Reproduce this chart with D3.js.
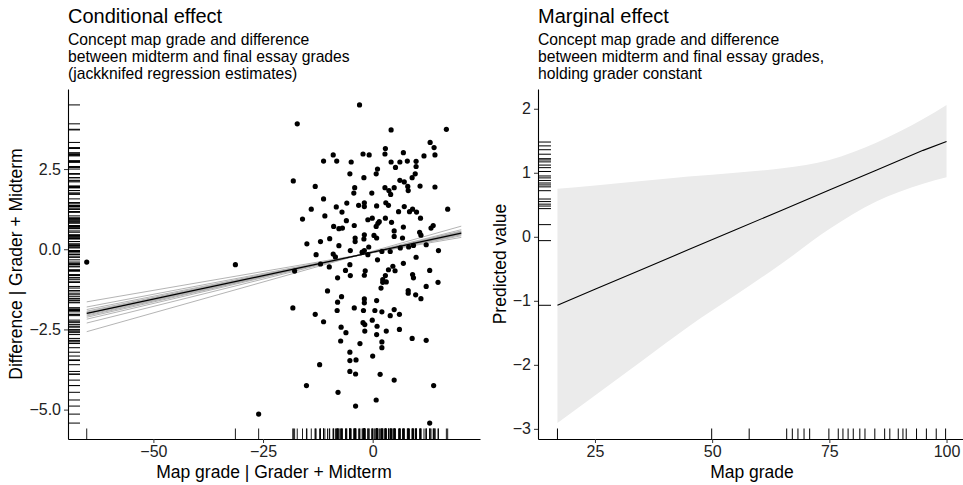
<!DOCTYPE html>
<html>
<head>
<meta charset="utf-8">
<script src="https://cdn.jsdelivr.net/npm/d3@7"></script>
<style>
  body { margin: 0; background: #fff; }
  svg text { font-family: "Liberation Sans", Arial, sans-serif; }
</style>
</head>
<body>
<svg id="chart" width="963" height="485"></svg>
<script>
// residualised map grade vs residualised difference (left panel)
const mapResid = [
  -3.0, -17.2, 4.2, 16.8, 13.1, 14.0, 2.9, -9.0, -2.2, -0.8, 2.8, 7.0, 11.7, 14.2,
  -11.2, -8.2, -4.9, 4.2, 6.2, 7.9, 9.9, 5.2, 9.9, 1.1, -5.2, 0.8, 9.7, 9.0, -2.0,
  -18.1, 6.2, 7.2, -13.1, -4.1, 2.8, 4.9, 8.0, 10.8, 14.2, 3.7, -4.3, -0.2, 8.1, 4.1,
  -11.2, -5.9, -8.3, -1.9, -3.2, -1.9, 0.9, 3.0, 3.6, 7.2, -14.0, 9.1, 17.1,
  -7.0, 5.9, 8.4, 10.0, -16.0, -10.9, -6.0, -1.1, -0.1, 1.2, 1.5, 2.9, 4.3, 10.9,
  -8.9, -7.7, -6.9, -4.2, 0.8, 7.0, 13.8, 13.3, 4.9, 10.7, 11.0, -1.9, 0.3, 0.9, 4.9,
  6.8, -9.8, -11.9, -15.0, -4.0, -2.0, -4.0, -7.7, -0.9, 12.2, 6.3, 8.2, 9.3, -5.1,
  -1.9, 2.1, 4.0, 15.0, -12.9, -9.0, -8.5, -1.1, -2.4, 9.9, 1.1, -11.9, 7.0, -5.2,
  -9.9, -17.8, -6.2, -1.7, 3.6, 4.6, 5.1, 13.0, -5.1, -1.9, -8.0, 2.9, 9.1, 9.3, 2.3,
  2.3, 3.1, 14.9, 12.2, 1.9, -10.3, 8.1, 8.1, 9.8, 11.0, -7.1, -1.9, -1.9, 0.9, -8.0,
  -18.2, -4.2, -8.1, 0.5, 4.9, -13.1, 2.1, 4.0, 6.1, -2.1,
  -11.2, -0.1, -2.2, -1.8, 1.0, -7.2, -6.1, -1.8, 0.9, 3.1, 6.1, 9.0, 12.2, -7.3, -2.9,
  2.1, 2.1, -5.2, 0.0, -5.2, -3.8, -12.1, -5.2, -3.9, 1.7, 4.9, -15.1, 13.9, -7.9, 0.8,
  -3.9, 13.0, -65.2, -31.3, -26.0
];
const diffResid = [
  4.50, 3.91, 3.72, 3.74, 3.33, 3.17, 3.14, 2.94, 2.97, 2.94, 2.97, 3.01, 2.91, 2.94,
  2.75, 2.75, 2.72, 2.72, 2.72, 2.75, 2.74, 2.55, 2.58, 2.50, 2.35, 2.35, 2.35, 2.23, 2.23,
  2.13, 2.15, 2.10, 1.96, 1.92, 1.92, 1.92, 1.96, 1.97, 1.94, 1.83, 1.75, 1.75, 1.83, 1.71,
  1.57, 1.44, 1.32, 1.45, 1.37, 1.33, 1.35, 1.45, 1.37, 1.33, 1.25, 1.25, 1.25,
  1.16, 1.17, 1.17, 1.16, 0.94, 1.04, 0.89, 0.92, 0.97, 0.81, 0.86, 0.97, 0.84, 0.97,
  0.71, 0.64, 0.66, 0.74, 0.71, 0.69, 0.74, 0.66, 0.57, 0.53, 0.44, 0.45, 0.43, 0.35, 0.40,
  0.35, 0.33, 0.24, 0.17, 0.35, 0.32, 0.24, 0.11, 0.07, 0.14, 0.04, 0.07, 0.12, -0.04,
  -0.04, -0.07, -0.07, -0.04, -0.17, -0.15, -0.24, -0.17, -0.09, -0.25, -0.33, -0.46, -0.44, -0.48,
  -0.55, -0.68, -0.66, -0.67, -0.64, -0.53, -0.67, -0.66, -0.82, -0.81, -0.89, -0.82, -0.79, -0.89, -0.95,
  -1.03, -1.02, -1.03, -1.16, -1.21, -1.30, -1.29, -1.37, -1.42, -1.54, -1.48, -1.55, -1.67, -1.60, -1.65,
  -1.83, -1.83, -1.91, -1.91, -1.88, -2.03, -1.95, -2.07, -2.03, -1.91,
  -2.26, -2.21, -2.29, -2.35, -2.40, -2.43, -2.60, -2.55, -2.66, -2.55, -2.50, -2.78, -2.84, -2.86, -2.94,
  -2.89, -3.07, -3.21, -3.33, -3.47, -3.45, -3.60, -3.81, -3.89, -3.90, -4.08, -4.25, -4.25, -4.46, -4.70,
  -4.89, -5.42, -0.40, -0.48, -5.14
];
// full-sample fit and jackknifed fits: y at the two ends of the line
const fitEnds = [-65.2, 20.2];
const fitFull = [-2.00, 0.50];
const jackLeft = [-2.57, -2.30, -2.18, -2.12, -2.08, -2.05, -2.02, -1.99, -1.96, -1.93, -1.88, -1.80, -1.64];
const jackRight = [0.72, 0.61, 0.57, 0.55, 0.53, 0.52, 0.51, 0.49, 0.48, 0.47, 0.45, 0.42, 0.37];

// marginal effect (right panel)
const gradeGrid = [17, 25, 35, 45, 55, 65, 75, 85, 95, 100];
const predFit = [-1.07, -0.82, -0.51, -0.20, 0.11, 0.42, 0.73, 1.04, 1.35, 1.49];
const predLow = [-2.91, -2.48, -1.94, -1.40, -0.91, -0.41, 0.12, 0.55, 0.83, 0.93];
const predHigh = [0.75, 0.80, 0.87, 0.94, 1.00, 1.07, 1.20, 1.47, 1.84, 2.06];
const gradeRug = [17.0, 49.9, 57.9, 65.9, 67.1, 68.3, 69.6, 70.8, 74.9, 76.9, 77.9, 79.0, 80.1,
  81.5, 82.6, 84.7, 86.8, 87.9, 89.7, 90.7, 91.4, 93.6, 95.7, 97.8, 99.8];
const predRug = [-1.07, -0.06, 0.19, 0.44, 0.48, 0.51, 0.55, 0.59, 0.72, 0.78, 0.81, 0.84, 0.88,
  0.92, 0.95, 1.02, 1.08, 1.12, 1.17, 1.20, 1.22, 1.29, 1.36, 1.42, 1.48];

const leftTicksX = [-50, -25, 0];
const leftTicksY = [-5, -2.5, 0, 2.5];
const rightTicksX = [25, 50, 75, 100];
const rightTicksY = [-3, -2, -1, 0, 1, 2];

const svg = d3.select("#chart");
const panelTop = 89, panelBottom = 439;

// ggplot-like 5% expansion
function expand(ext) {
  const pad = (ext[1] - ext[0]) * 0.05;
  return [ext[0] - pad, ext[1] + pad];
}

function axes(g, x, y, xt, yt, yfmt, xlab, ylab, ylabX) {
  const xr = x.range(), yr = y.range();
  const xa = g.append("g").attr("transform", `translate(0,${yr[0]})`)
    .call(d3.axisBottom(x).tickValues(xt).tickSize(4).tickPadding(3).tickSizeOuter(0));
  const ya = g.append("g").attr("transform", `translate(${xr[0]},0)`)
    .call(d3.axisLeft(y).tickValues(yt).tickSize(4).tickPadding(3).tickSizeOuter(0).tickFormat(yfmt));
  [xa, ya].forEach(a => {
    a.select(".domain").attr("stroke", "#000").attr("stroke-width", 1.1);
    a.selectAll(".tick line").attr("stroke", "#333");
    a.selectAll("text").attr("fill", "#222").style("font-size", "16px");
  });
  g.append("text").attr("x", (xr[0] + xr[1]) / 2).attr("y", 478)
    .attr("text-anchor", "middle").style("font-size", "17.5px").text(xlab);
  g.append("text").attr("transform", `translate(${ylabX},${(yr[0] + yr[1]) / 2}) rotate(-90)`)
    .attr("text-anchor", "middle").style("font-size", "17.5px").text(ylab);
}

function titles(g, x0, title, lines) {
  g.append("text").attr("x", x0).attr("y", 23).style("font-size", "20px").text(title);
  lines.forEach((t, i) => {
    g.append("text").attr("x", x0).attr("y", 45 + i * 17).style("font-size", "15.7px").text(t);
  });
}

// ---- left panel ----
const L = svg.append("g");
const xL = d3.scaleLinear().domain(expand(d3.extent(mapResid.concat(fitEnds)))).range([68, 480]);
const yL = d3.scaleLinear().domain(expand(d3.extent(diffResid))).range([panelBottom, panelTop]);

jackLeft.forEach((v, i) => {
  L.append("line")
    .attr("x1", xL(fitEnds[0])).attr("y1", yL(v))
    .attr("x2", xL(fitEnds[1])).attr("y2", yL(jackRight[i]))
    .attr("stroke", "#a8a8a8").attr("stroke-width", 1).attr("opacity", 0.85);
});
L.append("line")
  .attr("x1", xL(fitEnds[0])).attr("y1", yL(fitFull[0]))
  .attr("x2", xL(fitEnds[1])).attr("y2", yL(fitFull[1]))
  .attr("stroke", "#000").attr("stroke-width", 1.3);

L.selectAll("circle").data(mapResid).enter().append("circle")
  .attr("cx", d => xL(d))
  .attr("cy", (d, i) => yL(diffResid[i]))
  .attr("r", 2.6).attr("fill", "#000");

// rugs
L.selectAll(".rx").data(mapResid).enter().append("line")
  .attr("x1", d => xL(d)).attr("x2", d => xL(d))
  .attr("y1", panelBottom).attr("y2", panelBottom - 10.5)
  .attr("stroke", "#000").attr("stroke-width", 0.9);
L.selectAll(".ry").data(diffResid).enter().append("line")
  .attr("y1", d => yL(d)).attr("y2", d => yL(d))
  .attr("x1", 68).attr("x2", 80)
  .attr("stroke", "#000").attr("stroke-width", 1);

axes(L, xL, yL, leftTicksX, leftTicksY, d3.format(".1f"),
  "Map grade | Grader + Midterm", "Difference | Grader + Midterm", 22);
titles(L, 68, "Conditional effect", [
  "Concept map grade and difference",
  "between midterm and final essay grades",
  "(jackknifed regression estimates)"
]);

// ---- right panel ----
const R = svg.append("g");
const xR = d3.scaleLinear().domain(expand(d3.extent(gradeGrid))).range([538, 966]);
const yR = d3.scaleLinear().domain(expand([d3.min(predLow), d3.max(predHigh)])).range([panelBottom, panelTop]);

const band = d3.area()
  .x((d, i) => xR(gradeGrid[i]))
  .y0((d, i) => yR(predLow[i]))
  .y1((d, i) => yR(predHigh[i]))
  .curve(d3.curveMonotoneX);
R.append("path").datum(gradeGrid).attr("d", band).attr("fill", "#ebebeb");

const fitLine = d3.line()
  .x((d, i) => xR(gradeGrid[i]))
  .y((d, i) => yR(predFit[i]));
R.append("path").datum(gradeGrid).attr("d", fitLine)
  .attr("fill", "none").attr("stroke", "#000").attr("stroke-width", 1.1);

R.selectAll(".rx").data(gradeRug).enter().append("line")
  .attr("x1", d => xR(d)).attr("x2", d => xR(d))
  .attr("y1", panelBottom).attr("y2", panelBottom - 10.5)
  .attr("stroke", "#000").attr("stroke-width", 1);
R.selectAll(".ry").data(predRug).enter().append("line")
  .attr("y1", d => yR(d)).attr("y2", d => yR(d))
  .attr("x1", 538).attr("x2", 551)
  .attr("stroke", "#000").attr("stroke-width", 1);

axes(R, xR, yR, rightTicksX, rightTicksY, d3.format("d"),
  "Map grade", "Predicted value", 506);
titles(R, 538, "Marginal effect", [
  "Concept map grade and difference",
  "between midterm and final essay grades,",
  "holding grader constant"
]);
</script>
</body>
</html>
